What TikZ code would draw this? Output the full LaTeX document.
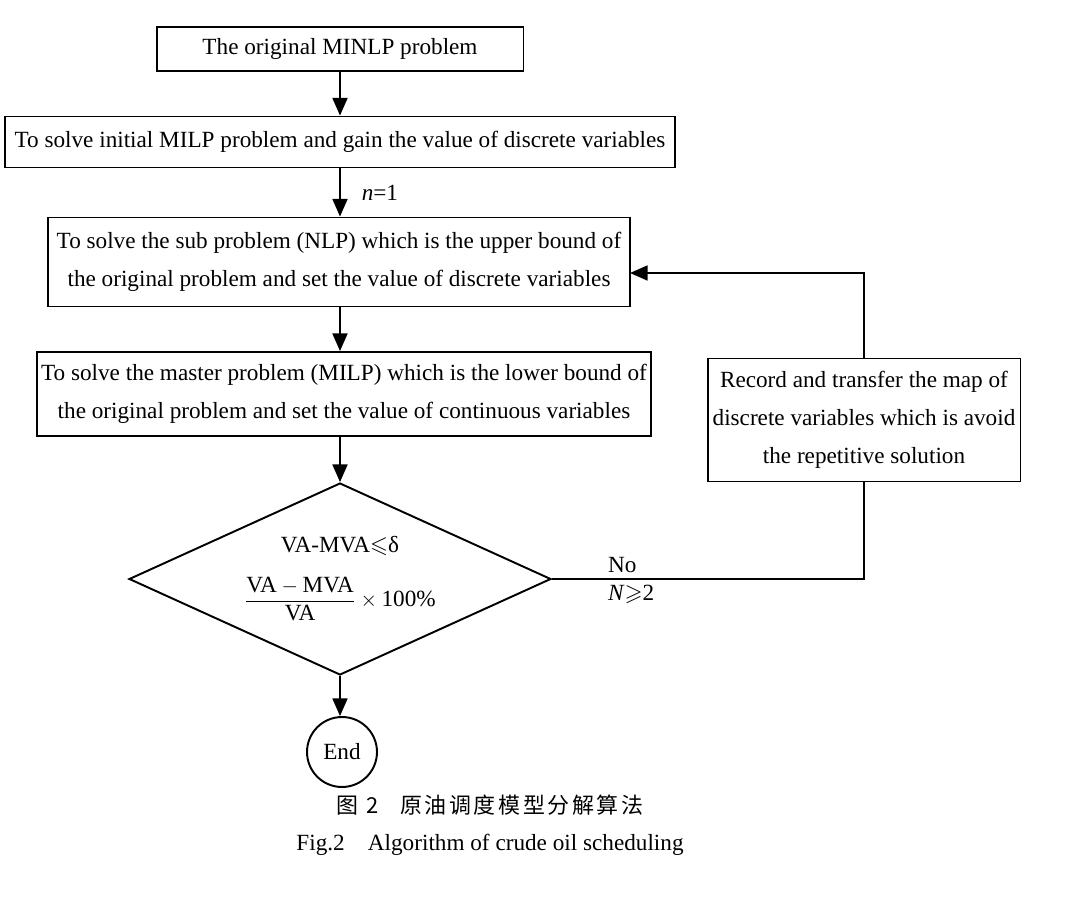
\documentclass[tikz,border=0pt]{standalone}
\usepackage{amsmath}
\usepackage{amssymb}
\usepackage{fontspec}
\setmainfont{Liberation Serif}
\newfontfamily\cjk[LetterSpace=12]{Noto Sans CJK SC}
\usetikzlibrary{arrows.meta}
\usetikzlibrary{shapes.geometric}

\begin{document}
\begin{tikzpicture}[
    x=0.02cm, y=-0.02cm,
    line width=1.1pt,
    font=\fontsize{13.2}{21.5}\selectfont,
    flow/.style={-{Triangle[length=10pt, width=8.5pt]}},
    process/.style={rectangle, draw=black, align=center, inner sep=0pt},
    decision/.style={diamond, draw=black, align=center, inner sep=0pt, aspect=2.2,
        minimum width=8.44cm, minimum height=3.84cm},
    terminal/.style={circle, draw=black, minimum size=1.4cm, inner sep=0pt},
    ]

    \useasboundingbox (0,0) rectangle (1073,916);

    \node (start) [process, minimum width=7.34cm, minimum height=0.88cm] at (340,49) {The original MINLP problem};
    \node (init) [process, minimum width=13.42cm, minimum height=1.02cm] at (340,142) {To solve initial MILP problem and gain the value of discrete variables};
    \node (sub) [process, minimum width=11.64cm, minimum height=1.78cm] at (339,262)
        {To solve the sub problem (NLP) which is the upper bound of\\the original problem and set the value of discrete variables};
    \node (master) [process, minimum width=12.28cm, minimum height=1.68cm] at (344,394)
        {To solve the master problem (MILP) which is the lower bound of\\the original problem and set the value of continuous variables};
    \node (test) [decision] at (340,579)
        {VA-MVA$\leqslant$δ\\[9pt]$\dfrac{\text{VA}-\text{MVA}}{\text{VA}}\times\text{100\%}$};
    \node (end) [terminal] at (342,752) {End};
    \node (record) [process, minimum width=6.26cm, minimum height=2.46cm] at (864,420)
        {Record and transfer the map of\\discrete variables which is avoid\\the repetitive solution};
    \coordinate (back) at (630,273);

    \node (capcn) at (490,805) {\fontsize{12.5}{15}\cjk 图 2\quad 原油调度模型分解算法};
    \node (capen) at (490,845) {Fig.2\quad Algorithm of crude oil scheduling};

    \draw [flow] (start) -- (init);
    \draw [flow] (init) -- node [anchor=west, xshift=0.3cm] {\textit{n}=1} (init |- sub.north);
    \draw [flow] (sub.south -| init) -- (init |- master.north);
    \draw [flow] (master.south -| test) -- (test);
    \draw [flow] (test) -- (test |- end.north);
    \draw (test.east) -- node [pos=0.16, anchor=south west, inner sep=3pt] {No}
        node [pos=0.16, anchor=north west, inner sep=3pt] {\textit{N}$\geqslant$2} (test.east -| record) -- (record);
    \draw [flow] (record) -- (record |- back) -- (back);
\end{tikzpicture}
\end{document}
